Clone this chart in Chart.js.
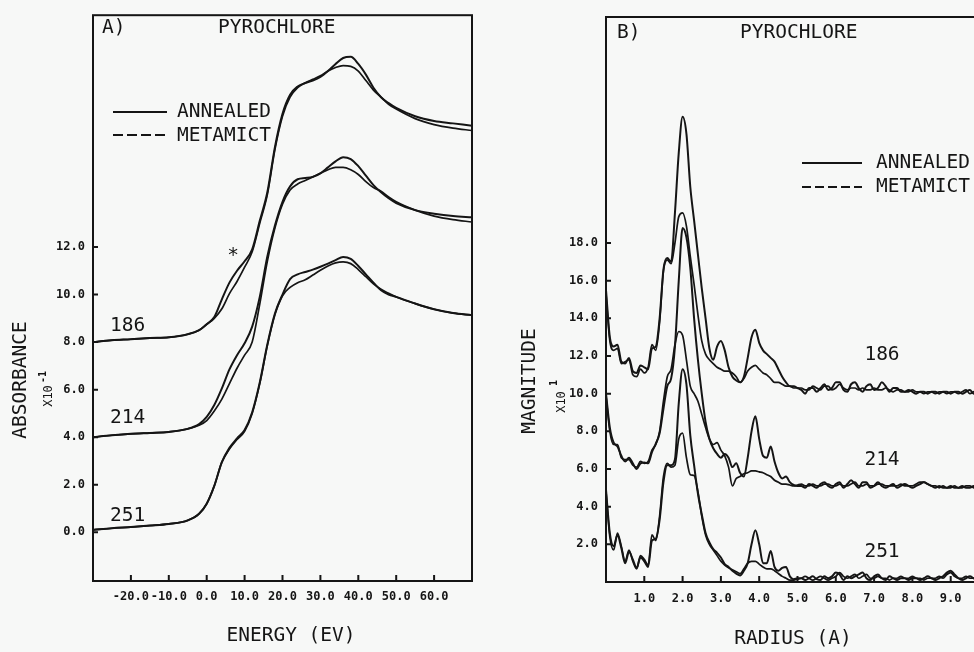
<!DOCTYPE html>
<html lang="en">
<head>
<meta charset="UTF-8">
<title>Pyrochlore - absorbance and radial magnitude</title>
<script src="https://cdn.jsdelivr.net/npm/chart.js"></script>
<style>
    body {
        margin: 0;
        background: #f7f8f7;
        width: 974px;
        height: 652px;
        overflow: hidden;
        position: relative;
    }
    canvas { position: absolute; top: 0; }
    #chartA { left: 0; }
    #chartB { left: 490px; }
</style>
</head>
<body>
<canvas id="chartA" width="490" height="652"></canvas>
<canvas id="chartB" width="510" height="652"></canvas>

<script>
// ---- panel A: absorbance (x10^-1) vs energy (eV) ----
var energy = [-30, -25, -20, -15, -10, -5, -2, 0, 2, 4, 6, 8, 10, 12, 14, 16, 18, 20, 22, 24,
              26, 28, 30, 32, 34, 36, 38, 40, 42, 44, 46, 48, 50, 55, 60, 65, 70];
var abs186Annealed = [8.0, 8.08, 8.12, 8.17, 8.2, 8.33, 8.5, 8.75, 9.05, 9.8, 10.5, 11.0, 11.4, 11.9, 13.1, 14.3, 16.2, 17.6, 18.4, 18.75,
                      18.9, 19.0, 19.15, 19.4, 19.7, 19.95, 20.0, 19.7, 19.25, 18.7, 18.3, 18.05, 17.85, 17.5, 17.3, 17.2, 17.1];
var abs186Metamict = [8.0, 8.08, 8.12, 8.17, 8.2, 8.33, 8.5, 8.75, 9.0, 9.4, 10.04, 10.55, 11.15, 11.8, 13.0, 14.2, 16.1, 17.5, 18.3, 18.7,
                      18.9, 19.05, 19.2, 19.4, 19.55, 19.63, 19.6, 19.4, 19.0, 18.6, 18.3, 18.0, 17.8, 17.4, 17.15, 17.0, 16.9];
var abs214Annealed = [4.0, 4.08, 4.14, 4.18, 4.22, 4.35, 4.55, 4.85, 5.35, 6.05, 6.85, 7.45, 7.95, 8.65, 9.9, 11.6, 12.9, 13.9, 14.55, 14.85,
                      14.9, 14.95, 15.1, 15.35, 15.6, 15.78, 15.7, 15.4, 15.0, 14.6, 14.3, 14.05, 13.85, 13.55, 13.4, 13.3, 13.25];
var abs214Metamict = [4.0, 4.08, 4.14, 4.18, 4.22, 4.35, 4.5, 4.7, 5.1, 5.6, 6.25, 6.9, 7.45, 8.0, 9.6, 11.4, 12.8, 13.8, 14.4, 14.65,
                      14.8, 14.95, 15.1, 15.25, 15.35, 15.35, 15.25, 15.05, 14.75, 14.5, 14.35, 14.1, 13.9, 13.55, 13.3, 13.15, 13.05];
var abs251Annealed = [0.1, 0.17, 0.22, 0.28, 0.35, 0.5, 0.78, 1.2, 1.95, 2.95, 3.55, 3.95, 4.3, 5.05, 6.3, 7.9, 9.2, 10.0, 10.65, 10.85,
                      10.95, 11.05, 11.17, 11.3, 11.45, 11.58, 11.5, 11.2, 10.85, 10.5, 10.18, 10.0, 9.9, 9.62, 9.38, 9.22, 9.13];
var abs251Metamict = [0.1, 0.17, 0.22, 0.28, 0.35, 0.5, 0.78, 1.2, 1.95, 2.95, 3.5, 3.9, 4.25, 5.0, 6.25, 7.85, 9.15, 9.95, 10.3, 10.5,
                      10.62, 10.82, 11.02, 11.2, 11.33, 11.37, 11.3, 11.05, 10.75, 10.45, 10.22, 10.05, 9.9, 9.62, 9.38, 9.22, 9.13];
var energyTicks = [-20, -10, 0, 10, 20, 30, 40, 50, 60];
var absTicks = [0, 2, 4, 6, 8, 10, 12];

// ---- panel B: magnitude (x10^1) vs radius (A) ----
var radius = [0.0, 0.1, 0.2, 0.3, 0.4, 0.5, 0.6, 0.7, 0.8, 0.9,
              1.0, 1.1, 1.2, 1.3, 1.4, 1.5, 1.6, 1.7, 1.8, 1.9,
              2.0, 2.1, 2.2, 2.3, 2.4, 2.5, 2.6, 2.7, 2.8, 2.9,
              3.0, 3.1, 3.2, 3.3, 3.4, 3.5, 3.6, 3.7, 3.8, 3.9,
              4.0, 4.1, 4.2, 4.3, 4.4, 4.5, 4.6, 4.7, 4.8, 4.9,
              5.0, 5.1, 5.2, 5.3, 5.4, 5.5, 5.6, 5.7, 5.8, 5.9,
              6.0, 6.1, 6.2, 6.3, 6.4, 6.5, 6.6, 6.7, 6.8, 6.9,
              7.0, 7.1, 7.2, 7.3, 7.4, 7.5, 7.6, 7.7, 7.8, 7.9,
              8.0, 8.1, 8.2, 8.3, 8.4, 8.5, 8.6, 8.7, 8.8, 8.9,
              9.0, 9.1, 9.2, 9.3, 9.4, 9.5, 9.6, 9.7, 9.8, 9.9, 10.0];
var mag186Annealed = [15.5, 13.0, 12.5, 12.6, 11.7, 11.6, 11.9, 11.2, 11.1, 11.5,
                      11.4, 11.3, 12.4, 12.5, 14.0, 16.6, 17.2, 17.0, 19.6, 22.8,
                      24.7, 23.8, 21.0, 19.2, 17.4, 15.6, 14.0, 12.4, 11.8, 12.5,
                      12.8, 12.3, 11.4, 10.9, 10.7, 10.6, 10.9, 11.9, 13.0, 13.4,
                      12.7, 12.3, 12.1, 11.9, 11.7, 11.3, 10.9, 10.6, 10.4, 10.4,
                      10.3, 10.2, 10.0, 10.3, 10.3, 10.1, 10.3, 10.5, 10.2, 10.3,
                      10.6, 10.6, 10.2, 10.1, 10.5, 10.6, 10.3, 10.1, 10.4, 10.5,
                      10.2, 10.3, 10.6, 10.4, 10.1, 10.3, 10.3, 10.1, 10.1, 10.2,
                      10.1, 10.0, 10.1, 10.1, 10.0, 10.1, 10.1, 10.0, 10.1, 10.1,
                      10.0, 10.1, 10.1, 10.0, 10.1, 10.2, 10.0, 10.1, 10.3, 10.4, 10.2];
var mag186Metamict = [15.3, 12.8, 12.3, 12.4, 11.6, 11.7, 11.8, 11.0, 10.9, 11.3,
                      11.1, 11.4, 12.6, 12.3, 13.8, 16.5, 17.1, 16.9, 18.0, 19.4,
                      19.6, 18.9, 17.3, 15.8, 14.2, 12.8, 12.1, 11.8, 11.6, 11.4,
                      11.3, 11.2, 11.2, 11.1, 10.9, 10.6, 10.8, 11.2, 11.4, 11.5,
                      11.3, 11.1, 11.0, 10.8, 10.6, 10.6, 10.5, 10.4, 10.4, 10.3,
                      10.3, 10.3, 10.2, 10.2, 10.4, 10.3, 10.2, 10.4, 10.4, 10.2,
                      10.3, 10.5, 10.3, 10.2, 10.3, 10.3, 10.2, 10.3, 10.2, 10.2,
                      10.3, 10.2, 10.2, 10.3, 10.2, 10.1, 10.2, 10.2, 10.1, 10.1,
                      10.2, 10.1, 10.1, 10.0, 10.1, 10.1, 10.0, 10.1, 10.1, 10.0,
                      10.1, 10.1, 10.0, 10.1, 10.2, 10.0, 10.1, 10.2, 10.1, 10.2, 10.2];
var mag214Annealed = [10.0, 8.2, 7.4, 7.2, 6.7, 6.4, 6.6, 6.3, 6.0, 6.3,
                      6.35, 6.3, 6.9, 7.35, 7.9, 9.2, 10.4, 10.8, 12.5, 16.0,
                      18.8, 18.3, 16.7, 14.0, 11.8, 10.0, 8.5, 7.6, 7.1, 6.8,
                      6.6, 6.8, 6.6, 6.1, 6.3, 5.8, 5.6, 6.6, 8.0, 8.8,
                      7.6, 6.7, 6.6, 7.2, 6.4, 5.8, 5.5, 5.6, 5.3, 5.15,
                      5.1, 5.1, 5.0, 5.2, 5.1, 5.0, 5.2, 5.3, 5.1, 5.0,
                      5.2, 5.3, 5.0, 5.2, 5.4, 5.2, 5.0, 5.3, 5.3, 5.0,
                      5.1, 5.3, 5.1, 5.0, 5.1, 5.2, 5.0, 5.1, 5.2, 5.1,
                      5.0, 5.1, 5.2, 5.3, 5.2, 5.1, 5.0, 5.1, 5.0, 5.0,
                      5.1, 5.0, 5.0, 5.1, 5.0, 5.0, 5.1, 5.0, 5.0, 5.1, 5.1];
var mag214Metamict = [9.9, 8.0, 7.3, 7.3, 6.6, 6.5, 6.5, 6.2, 6.1, 6.4,
                      6.3, 6.4, 7.0, 7.3, 8.0, 9.6, 10.9, 11.3, 12.6, 13.3,
                      13.1, 11.8, 10.4, 10.0, 9.6, 8.9, 8.2, 7.6, 7.3, 7.4,
                      7.0, 6.7, 6.1, 5.1, 5.5, 5.6, 5.75, 5.8, 5.9, 5.9,
                      5.85, 5.8, 5.7, 5.6, 5.4, 5.3, 5.2, 5.2, 5.15, 5.1,
                      5.15, 5.2, 5.1, 5.1, 5.2, 5.1, 5.1, 5.2, 5.2, 5.1,
                      5.1, 5.2, 5.1, 5.1, 5.2, 5.3, 5.1, 5.1, 5.2, 5.1,
                      5.1, 5.2, 5.2, 5.1, 5.1, 5.1, 5.1, 5.2, 5.1, 5.1,
                      5.1, 5.2, 5.3, 5.3, 5.2, 5.1, 5.1, 5.0, 5.1, 5.0,
                      5.0, 5.1, 5.0, 5.0, 5.1, 5.1, 5.0, 5.0, 5.1, 5.0, 5.1];
var mag251Annealed = [4.9, 2.6, 1.9, 2.5, 1.8, 1.0, 1.6, 1.2, 0.75, 1.3,
                      1.1, 0.8, 2.2, 2.3, 3.3, 5.3, 6.2, 6.2, 6.5, 9.5,
                      11.3, 10.5, 7.8, 6.2, 4.7, 3.6, 2.6, 2.1, 1.75, 1.55,
                      1.3, 0.95, 0.8, 0.6, 0.45, 0.35, 0.6, 1.0, 2.0, 2.75,
                      2.0, 1.0, 1.0, 1.65, 0.8, 0.6, 0.75, 0.8, 0.3, 0.15,
                      0.2, 0.2, 0.1, 0.2, 0.3, 0.15, 0.1, 0.3, 0.2, 0.3,
                      0.5, 0.4, 0.1, 0.3, 0.2, 0.3, 0.4, 0.5, 0.2, 0.1,
                      0.3, 0.4, 0.2, 0.1, 0.3, 0.2, 0.1, 0.2, 0.2, 0.1,
                      0.2, 0.2, 0.1, 0.2, 0.3, 0.2, 0.1, 0.2, 0.3, 0.5,
                      0.6, 0.4, 0.2, 0.1, 0.2, 0.3, 0.2, 0.1, 0.3, 0.4, 0.2];
var mag251Metamict = [4.8, 2.4, 1.7, 2.6, 1.9, 1.1, 1.7, 1.1, 0.7, 1.4,
                      1.2, 0.9, 2.5, 2.2, 3.5, 5.6, 6.3, 6.1, 6.2, 7.6,
                      7.9, 6.6, 5.7, 5.65, 4.8, 3.5, 2.5, 2.0, 1.7, 1.4,
                      1.1, 0.9, 0.75, 0.65, 0.55, 0.45, 0.7, 1.0, 1.1, 1.1,
                      0.95, 0.8, 0.7, 0.7, 0.6, 0.45, 0.3, 0.2, 0.1, 0.1,
                      0.15, 0.2, 0.3, 0.2, 0.1, 0.2, 0.3, 0.2, 0.1, 0.2,
                      0.3, 0.5, 0.3, 0.2, 0.3, 0.4, 0.2, 0.3, 0.4, 0.2,
                      0.2, 0.3, 0.2, 0.2, 0.1, 0.2, 0.2, 0.3, 0.2, 0.2,
                      0.3, 0.2, 0.2, 0.1, 0.2, 0.2, 0.2, 0.3, 0.2, 0.4,
                      0.5, 0.3, 0.2, 0.2, 0.3, 0.2, 0.2, 0.3, 0.2, 0.3, 0.3];
var radiusTicks = [1, 2, 3, 4, 5, 6, 7, 8, 9];
var magTicks = [2, 4, 6, 8, 10, 12, 14, 16, 18];

var ink = '#151515';
var mono = '"DejaVu Sans Mono", monospace';
var bigFont = '19.5px ' + mono;
var tickFont = { family: mono, size: 12, weight: 'bold' };

function pts(xs, ys) {
    return xs.map(function (x, i) { return { x: x, y: ys[i] }; });
}

function curve(label, xs, ys, width) {
    return {
        label: label,
        data: pts(xs, ys),
        borderColor: ink,
        borderWidth: width,
        pointRadius: 0,
        fill: false,
        cubicInterpolationMode: 'monotone'
    };
}

// box round the plot plus short ticks pointing inwards
function frameTicks(xLen, yLen) {
    return {
        id: 'frameTicks',
        afterDatasetsDraw: function (chart) {
            var ctx = chart.ctx, a = chart.chartArea;
            ctx.save();
            ctx.strokeStyle = ink;
            ctx.lineWidth = 2;
            ctx.strokeRect(a.left, a.top, a.right - a.left, a.bottom - a.top);
            ctx.beginPath();
            chart.scales.x.ticks.forEach(function (t) {
                var px = chart.scales.x.getPixelForValue(t.value);
                ctx.moveTo(px, a.bottom);
                ctx.lineTo(px, a.bottom - xLen);
            });
            chart.scales.y.ticks.forEach(function (t) {
                var py = chart.scales.y.getPixelForValue(t.value);
                ctx.moveTo(a.left, py);
                ctx.lineTo(a.left + yLen, py);
            });
            ctx.stroke();
            ctx.restore();
        }
    };
}

// titles, curve labels and the hand drawn legend
function notes(items) {
    return {
        id: 'notes',
        afterDraw: function (chart) {
            var ctx = chart.ctx;
            items.forEach(function (n) {
                ctx.save();
                ctx.strokeStyle = ink;
                ctx.fillStyle = ink;
                if (n.line) {
                    ctx.lineWidth = 2;
                    ctx.setLineDash(n.dash || []);
                    ctx.beginPath();
                    ctx.moveTo(n.line[0], n.line[2]);
                    ctx.lineTo(n.line[1], n.line[2]);
                    ctx.stroke();
                } else {
                    ctx.translate(n.x, n.y);
                    if (n.rot) ctx.rotate(n.rot);
                    ctx.font = n.font || bigFont;
                    ctx.textAlign = n.align || 'left';
                    ctx.textBaseline = 'middle';
                    ctx.fillText(n.text, 0, 0);
                }
                ctx.restore();
            });
        }
    };
}

function fixedTicks(list) {
    return function (scale) {
        scale.ticks = list.map(function (v) { return { value: v }; });
    };
}

function axisOptions(min, max, list, pad, fit) {
    return {
        type: 'linear',
        min: min,
        max: max,
        afterBuildTicks: fixedTicks(list),
        afterFit: fit,
        grid: { display: false, drawTicks: false },
        border: { display: false },
        ticks: {
            color: ink,
            font: tickFont,
            padding: pad,
            autoSkip: false,
            maxRotation: 0,
            callback: function (v) { return Number(v).toFixed(1); }
        }
    };
}

var up = -Math.PI / 2;

new Chart(document.getElementById('chartA'), {
    type: 'line',
    data: {
        datasets: [
            curve('186 annealed', energy, abs186Annealed, 2),
            curve('186 metamict', energy, abs186Metamict, 1.7),
            curve('214 annealed', energy, abs214Annealed, 2),
            curve('214 metamict', energy, abs214Metamict, 1.7),
            curve('251 annealed', energy, abs251Annealed, 2),
            curve('251 metamict', energy, abs251Metamict, 1.7)
        ]
    },
    options: {
        responsive: false,
        animation: false,
        layout: { padding: { top: 14, right: 18, left: 0, bottom: 0 } },
        plugins: { legend: { display: false }, tooltip: { enabled: false } },
        scales: {
            x: axisOptions(-30, 70, energyTicks, 9, function (s) { s.height = 71; }),
            y: axisOptions(-2.05, 21.75, absTicks, 8, function (s) { s.width = 93; })
        }
    },
    plugins: [frameTicks(6, 5), notes([
        { text: 'A)', x: 102, y: 28 },
        { text: 'PYROCHLORE', x: 218, y: 28 },
        { line: [113, 167, 112] },
        { line: [113, 167, 135], dash: [10, 4] },
        { text: 'ANNEALED', x: 177, y: 112 },
        { text: 'METAMICT', x: 177, y: 136 },
        { text: '*', x: 233, y: 256, align: 'center' },
        { text: '186', x: 110, y: 326 },
        { text: '214', x: 110, y: 418 },
        { text: '251', x: 110, y: 516 },
        { text: 'ENERGY (EV)', x: 291, y: 636, align: 'center' },
        { text: 'ABSORBANCE', x: 21, y: 380, rot: up, align: 'center' },
        { text: 'X10', x: 49, y: 396, rot: up, align: 'center', font: '12px ' + mono },
        { text: '-1', x: 43, y: 377, rot: up, align: 'center', font: 'bold 10px ' + mono }
    ])]
});

new Chart(document.getElementById('chartB'), {
    type: 'line',
    data: {
        datasets: [
            curve('186 annealed', radius, mag186Annealed, 2),
            curve('186 metamict', radius, mag186Metamict, 1.7),
            curve('214 annealed', radius, mag214Annealed, 2),
            curve('214 metamict', radius, mag214Metamict, 1.7),
            curve('251 annealed', radius, mag251Annealed, 2),
            curve('251 metamict', radius, mag251Metamict, 1.7)
        ]
    },
    options: {
        responsive: false,
        animation: false,
        layout: { padding: { top: 17, right: 11, left: 0, bottom: 0 } },
        plugins: { legend: { display: false }, tooltip: { enabled: false } },
        scales: {
            x: axisOptions(0, 10, radiusTicks, 10, function (s) { s.height = 70; }),
            y: axisOptions(0, 30, magTicks, 8, function (s) { s.width = 116; })
        }
    },
    plugins: [frameTicks(6, 5), notes([
        { text: 'B)', x: 127, y: 33 },
        { text: 'PYROCHLORE', x: 250, y: 33 },
        { line: [312, 372, 163] },
        { line: [312, 372, 187], dash: [9, 4] },
        { text: 'ANNEALED', x: 386, y: 163 },
        { text: 'METAMICT', x: 386, y: 187 },
        { text: '186', x: 392, y: 355, align: 'center' },
        { text: '214', x: 392, y: 460, align: 'center' },
        { text: '251', x: 392, y: 552, align: 'center' },
        { text: 'RADIUS (A)', x: 303, y: 639, align: 'center' },
        { text: 'MAGNITUDE', x: 40, y: 381, rot: up, align: 'center' },
        { text: 'X10', x: 72, y: 402, rot: up, align: 'center', font: '12px ' + mono },
        { text: '1', x: 64, y: 383, rot: up, align: 'center', font: 'bold 10px ' + mono }
    ])]
});
</script>
</body>
</html>
